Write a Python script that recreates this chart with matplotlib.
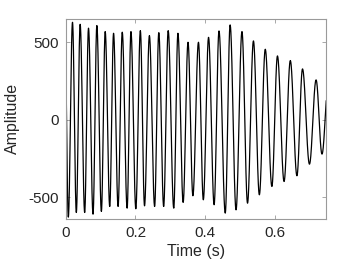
import numpy as np
import matplotlib
matplotlib.use("Agg")
import matplotlib.pyplot as plt

# Extrema of the waveform (time in s, amplitude)
ext_time = [-0.003, 0.007, 0.019, 0.030, 0.041, 0.054, 0.065, 0.078, 0.089, 0.102,
            0.113, 0.126, 0.137, 0.150, 0.162, 0.176, 0.187, 0.201, 0.214, 0.226,
            0.240, 0.255, 0.267, 0.281, 0.294, 0.310, 0.322, 0.337, 0.351, 0.365,
            0.381, 0.395, 0.410, 0.426, 0.440, 0.458, 0.472, 0.489, 0.506, 0.522,
            0.539, 0.556, 0.573, 0.592, 0.608, 0.627, 0.645, 0.664, 0.680, 0.700,
            0.719, 0.736, 0.754]
ext_amp = [620, -628, 630, -598, 617, -598, 592, -609, 609, -591,
           570, -559, 559, -559, 566, -570, 570, -574, 576, -555,
           544, -559, 563, -559, 576, -570, 559, -533, 501, -490,
           501, -516, 533, -548, 574, -602, 613, -581, 570, -538,
           510, -484, 456, -430, 413, -398, 383, -361, 329, -286,
           258, -221, 230]

xticks = [0, 0.2, 0.4, 0.6]
xtick_labels = ["0", "0.2", "0.4", "0.6"]
yticks = [-500, 0, 500]
ytick_labels = ["-500", "0", "500"]

# smooth half-cosine rendering between consecutive extrema
ts, ys = [], []
for i in range(len(ext_time) - 1):
    t0, t1 = ext_time[i], ext_time[i + 1]
    a, b = ext_amp[i], ext_amp[i + 1]
    u = np.linspace(0, 1, 40, endpoint=False)
    ts.append(t0 + (t1 - t0) * u)
    ys.append((a + b) / 2 + (a - b) / 2 * np.cos(np.pi * u))
ts = np.concatenate(ts)
ys = np.concatenate(ys)

plt.rcParams['font.family'] = ['Liberation Sans', 'DejaVu Sans']
plt.rcParams['axes.unicode_minus'] = False

fig = plt.figure(figsize=(3.6, 2.7), dpi=100)
ax = fig.add_axes([0.183, 0.189, 0.723, 0.741])
ax.plot(ts, ys, color='black', lw=0.9)
ax.set_xlim(0, 0.748)
ax.set_ylim(-640, 652)
ax.set_xticks(xticks)
ax.set_xticklabels(xtick_labels)
ax.set_yticks(yticks)
ax.set_yticklabels(ytick_labels)
for s in ax.spines.values():
    s.set_color('#9a9a9a')
    s.set_linewidth(0.8)
ax.tick_params(direction='in', length=3, width=0.6, color='#9a9a9a',
               top=True, right=True, labelsize=11, labelcolor='#262626', pad=5)
ax.set_xlabel("Time (s)", fontsize=11.5, color='#262626', labelpad=3)
ax.set_ylabel("Amplitude", fontsize=11.5, color='#262626', labelpad=6)

fig.savefig("out.png", dpi=100)
